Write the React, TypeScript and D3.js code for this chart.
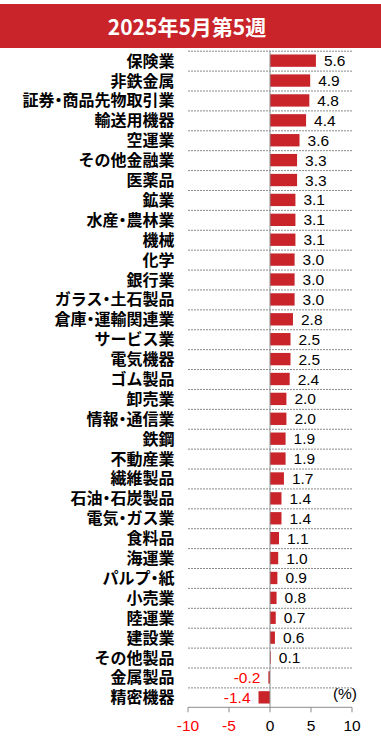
import React from "react";
import * as d3 from "d3";

const title = "2025年5月第5週";
const categories = [
  "保険業", "非鉄金属", "証券・商品先物取引業", "輸送用機器", "空運業", "その他金融業", "医薬品", "鉱業",
  "水産・農林業", "機械", "化学", "銀行業", "ガラス・土石製品", "倉庫・運輸関連業", "サービス業", "電気機器",
  "ゴム製品", "卸売業", "情報・通信業", "鉄鋼", "不動産業", "繊維製品", "石油・石炭製品", "電気・ガス業",
  "食料品", "海運業", "パルプ・紙", "小売業", "陸運業", "建設業", "その他製品", "金属製品", "精密機器",
];
const values = [
  5.6, 4.9, 4.8, 4.4, 3.6, 3.3, 3.3, 3.1, 3.1, 3.1, 3.0, 3.0, 3.0, 2.8, 2.5, 2.5,
  2.4, 2.0, 2.0, 1.9, 1.9, 1.7, 1.4, 1.4, 1.1, 1.0, 0.9, 0.8, 0.7, 0.6, 0.1, -0.2, -1.4,
];
const xTicks = [-10, -5, 0, 5, 10];
const unitLabel = "(%)";

const RED = "#C9242A";
const NEG = "#FF0000";
const CJK = "'Noto Sans CJK JP', sans-serif";
const NUM = "'Liberation Sans', Arial, sans-serif";

function Label({ text, x, y }: { text: string; x: number; y: number }) {
  const parts = text.split("・");
  const out: React.ReactNode[] = [];
  parts.forEach((p, i) => {
    if (i > 0) out.push(<tspan key={"d" + i} style={{ fontFeatureSettings: '"palt"' }}>・</tspan>);
    out.push(<tspan key={"p" + i}>{p}</tspan>);
  });
  return (
    <text x={x} y={y} textAnchor="end" fill="#000" fontFamily={CJK} fontWeight="bold" fontSize={16}>{out}</text>
  );
}

export default function App() {
  const W = 381, H = 739;
  const x = d3.scaleLinear().domain([-10, 10]).range([188, 352]);
  const y = d3.scaleBand<string>().domain(categories).range([50.7, 707.3]).paddingInner(0.38).paddingOuter(0.19);
  const step = y.step();
  const top0 = 50.7;
  const axisY = 707.3;
  const fmt = (v: number) => v.toFixed(1);

  return (
    <svg width={W} height={H} style={{ position: "absolute", left: 0, top: 0, display: "block" }}>
      <rect x={0} y={4} width={W} height={44} fill={RED} />
      <text x={187} y={35} textAnchor="middle" fill="#fff" fontFamily={CJK} fontWeight="bold" fontSize={21}>{title}</text>

      {categories.map((c, i) => (
        <line key={"g" + i} x1={x(-10)} x2={x(10)} y1={top0 + i * step + 0.5} y2={top0 + i * step + 0.5}
          stroke="#8a8a8a" strokeWidth={1} strokeDasharray="2,1" />
      ))}

      {categories.map((c, i) => {
        const v = values[i];
        const yy = y(c)!;
        const x0 = x(0), x1 = x(v);
        return (
          <g key={"b" + i}>
            <rect x={Math.min(x0, x1)} y={yy} width={Math.abs(x1 - x0)} height={y.bandwidth()} fill={RED} />
            <text x={v >= 0 ? x1 + 8 : x1 - 8} y={yy + y.bandwidth() / 2 + 5.5}
              textAnchor={v >= 0 ? "start" : "end"} fill={v >= 0 ? "#000" : NEG}
              fontFamily={NUM} fontSize={15.5}>{fmt(v)}</text>
            <Label text={c} x={174.5} y={yy + y.bandwidth() / 2 + 6} />
          </g>
        );
      })}

      <line x1={x(0)} x2={x(0)} y1={top0} y2={axisY} stroke="#8c8c8c" strokeWidth={1} />
      <line x1={x(-10)} x2={x(10)} y1={axisY} y2={axisY} stroke="#8c8c8c" strokeWidth={1} />
      {xTicks.map(t => (
        <g key={"t" + t}>
          <line x1={x(t)} x2={x(t)} y1={axisY} y2={axisY + 5} stroke="#8c8c8c" strokeWidth={1} />
          <text x={x(t)} y={731} textAnchor="middle" fill={t < 0 ? NEG : "#000"} fontFamily={NUM} fontSize={15.5}>{String(t)}</text>
        </g>
      ))}
      <text x={357} y={699} textAnchor="end" fill="#000" fontFamily={NUM} fontSize={15.5}>{unitLabel}</text>
    </svg>
  );
}
